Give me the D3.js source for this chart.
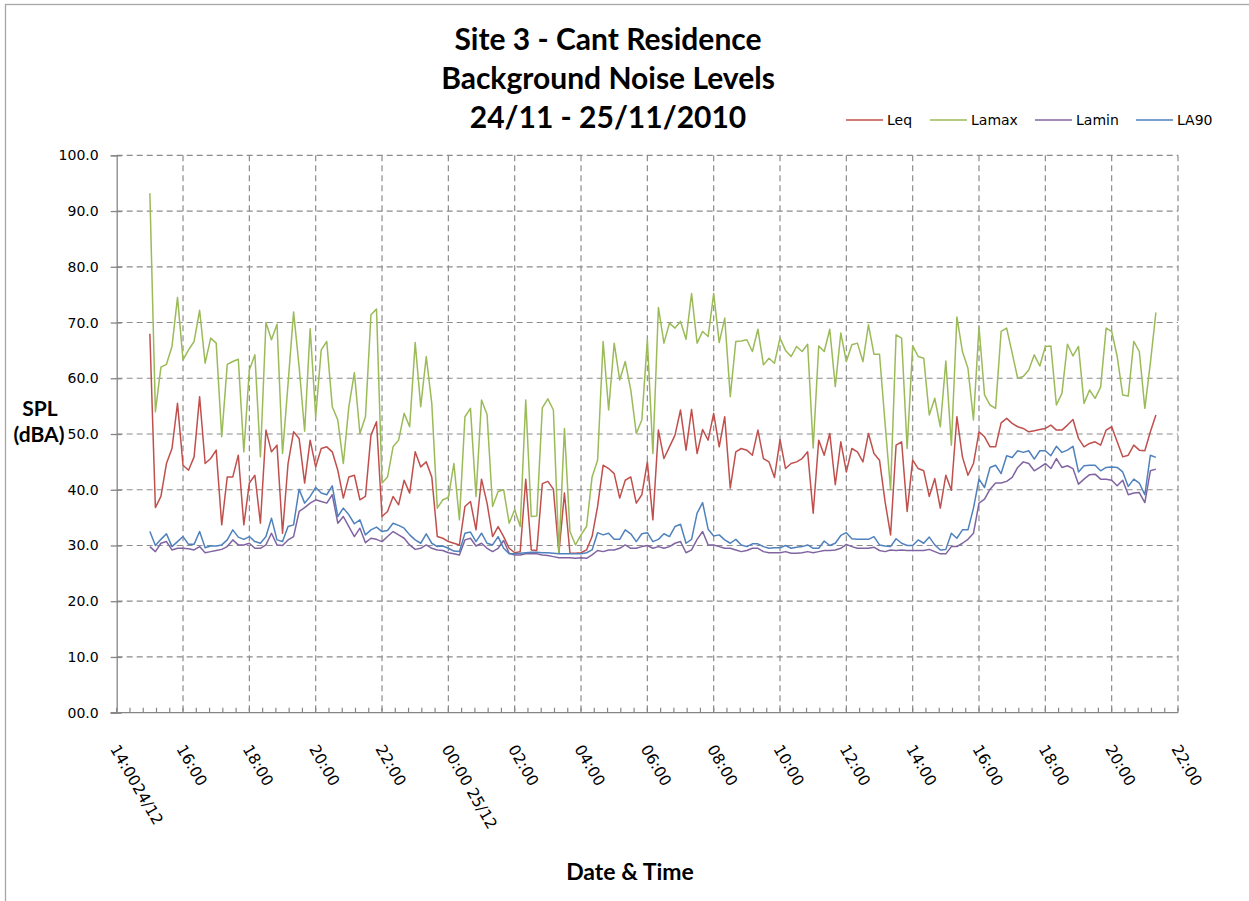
<!DOCTYPE html>
<html>
<head>
<meta charset="utf-8">
<script src="https://cdn.jsdelivr.net/npm/d3@7"></script>
<style>
body{margin:0;background:#fff}
svg{display:block}
</style>
</head>
<body>
<svg id="chart" width="1249" height="901"></svg>
<script>
// readings every 10 min from 15:00 24/11 to 21:20 25/11
var seriesNames = ['Leq', 'Lamax', 'Lamin', 'LA90']
var seriesColors = ['#C0504D', '#9BBB59', '#8064A2', '#4F81BD']

var leq = [
68.0,36.8,38.8,44.7,47.4,55.5,44.4,43.5,45.9,56.7,
44.7,45.6,47.1,33.7,42.3,42.3,46.2,33.7,41.2,42.6,
34.0,50.7,46.8,48.0,32.2,44.7,50.4,49.2,41.2,48.9,
44.1,47.4,47.7,46.8,43.5,38.5,42.3,42.6,38.2,38.8,
49.8,52.2,35.2,36.1,38.8,37.3,41.7,39.4,46.8,44.1,
45.0,42.3,31.6,31.3,30.7,30.4,30.1,37.0,37.9,32.8,
41.9,37.6,31.6,33.4,31.6,29.5,28.7,28.9,41.9,29.2,
29.1,41.1,41.5,40.1,28.6,39.4,28.6,28.6,28.7,29.2,
31.6,37.0,44.4,43.8,42.9,38.5,41.7,42.3,37.6,39.1,
45.0,34.6,50.7,45.6,47.7,49.8,54.3,47.1,54.4,46.5,
50.8,48.9,53.7,47.7,53.1,40.3,46.8,47.4,47.1,46.2,
50.7,45.6,45.0,42.2,49.0,43.8,44.7,45.0,45.6,46.8,
35.8,48.9,46.2,50.1,40.9,48.6,43.2,47.4,46.8,45.0,
50.1,46.5,45.3,37.9,31.9,48.0,48.6,36.1,45.3,43.8,
43.4,38.8,42.0,36.7,42.6,39.9,53.1,45.9,42.6,44.7,
50.4,49.5,47.7,47.7,52.0,52.8,51.9,51.3,51.0,50.4,
50.6,50.8,51.0,51.6,50.7,50.7,51.6,52.6,49.2,47.7,
48.3,48.6,48.0,50.7,51.3,48.6,45.9,46.2,48.0,47.1,
47.0,50.4,53.4]

var lamax = [
93.2,54.0,62.0,62.5,65.7,74.5,63.3,65.1,66.6,72.2,
62.7,67.2,66.3,49.5,62.5,63.0,63.4,46.8,61.5,64.2,
45.9,70.0,66.9,69.7,46.5,59.0,71.9,62.1,50.5,68.9,
53.1,65.1,66.6,54.9,52.5,44.7,54.9,61.0,50.1,53.1,
71.4,72.4,41.2,42.3,47.7,48.9,53.7,51.3,66.4,54.9,
63.9,55.5,36.7,38.2,38.6,44.7,34.6,53.1,54.6,38.8,
56.1,53.5,37.0,39.7,40.0,34.0,36.4,33.4,56.1,35.2,
35.3,54.7,56.3,54.3,28.6,51.0,32.5,30.1,31.9,33.4,
42.3,45.3,66.6,54.3,66.3,59.7,63.0,57.9,50.1,52.5,
66.9,46.5,72.7,66.3,69.9,69.0,70.2,67.0,75.2,66.3,
68.4,67.5,75.2,66.4,70.8,56.7,66.6,66.7,66.9,64.8,
68.8,62.4,63.6,62.7,67.2,65.0,63.9,65.7,64.8,66.1,
47.5,65.8,64.8,68.8,58.5,68.1,63.0,66.0,66.3,63.0,
69.6,64.3,64.3,52.0,40.0,67.8,67.2,47.4,65.8,63.9,
63.6,53.4,56.4,51.3,63.1,48.0,71.0,64.8,61.8,52.5,
69.2,57.0,55.2,54.6,68.4,69.0,64.5,60.0,60.3,61.5,
64.2,62.2,65.7,65.8,55.2,57.3,66.1,64.0,65.7,55.5,
57.9,56.4,58.4,69.0,68.4,63.9,57.0,56.8,66.6,64.8,
54.6,62.7,71.8]

var lamin = [
29.8,28.9,30.4,30.7,29.2,29.5,29.5,29.4,29.2,29.8,
28.7,28.9,29.1,29.3,29.8,31.0,30.1,30.1,30.4,29.5,
29.5,30.1,32.2,30.1,30.0,31.0,31.6,36.1,36.8,37.6,
38.2,37.9,37.6,39.1,34.0,35.2,33.4,31.6,33.1,30.5,
31.3,31.1,30.7,31.6,32.5,31.9,31.3,30.1,29.3,29.5,
30.1,29.5,29.2,29.1,28.7,28.5,28.3,31.0,31.3,29.9,
30.4,29.5,28.9,29.5,30.9,28.6,28.3,28.3,28.5,28.5,
28.5,28.3,28.2,28.0,27.8,27.8,27.8,27.7,27.8,27.7,
28.3,29.1,28.9,29.2,29.2,29.5,30.1,29.5,29.5,29.8,
30.0,29.5,29.8,29.5,29.8,30.4,30.7,28.7,29.2,31.1,
32.5,30.1,30.1,29.8,29.5,29.5,29.2,28.9,29.1,29.5,
29.5,28.9,28.7,28.7,28.7,28.9,28.6,28.6,28.7,28.9,
28.7,28.9,29.1,29.1,29.2,29.5,30.2,29.8,29.5,29.5,
29.5,29.7,29.1,28.9,29.2,29.1,29.2,29.1,29.1,29.1,
29.1,29.3,28.9,28.5,28.5,29.8,29.8,30.4,31.1,32.2,
37.6,38.3,40.1,41.2,41.2,41.5,42.2,44.0,45.0,44.7,
43.4,44.0,44.7,43.8,45.6,44.0,44.3,43.8,41.0,41.9,
42.7,42.8,41.9,41.9,41.7,40.7,41.7,39.1,39.4,39.5,
37.7,43.4,43.7]

var la90 = [
32.5,30.0,31.1,32.1,29.8,30.7,31.6,30.2,30.2,32.5,
29.6,29.9,29.9,30.1,31.0,32.8,31.5,31.1,31.6,30.7,
30.4,31.6,34.9,31.0,30.7,33.4,33.7,40.1,37.6,38.8,
40.4,39.4,39.1,40.7,35.2,36.7,35.5,33.9,34.6,31.9,
32.8,33.3,32.5,32.7,34.0,33.6,33.1,31.9,31.0,30.4,
32.1,30.4,29.8,29.9,29.5,29.0,28.9,32.2,32.4,30.7,
32.2,30.4,30.1,31.6,29.5,28.5,28.5,28.6,28.7,28.8,
28.8,28.7,28.7,28.6,28.5,28.5,28.5,28.5,28.5,28.7,
29.2,32.3,31.9,32.2,31.1,31.1,32.8,32.1,30.7,32.1,
32.3,30.7,31.1,32.1,31.6,33.4,33.8,30.4,31.1,35.8,
37.7,32.9,31.7,31.9,31.0,30.4,31.1,30.1,29.8,30.3,
30.3,29.8,29.5,29.6,29.6,30.0,29.5,29.7,29.8,30.1,
29.5,29.5,30.8,30.0,30.4,31.8,32.3,31.2,31.1,31.1,
31.1,31.6,30.1,29.9,29.8,31.2,30.4,30.0,30.0,31.0,
30.4,31.5,30.1,29.2,29.3,32.2,31.3,32.8,32.8,36.7,
41.9,40.4,44.0,44.4,42.9,46.1,45.8,47.0,46.7,47.0,
45.5,47.0,47.0,46.1,47.8,46.7,47.1,47.8,43.2,44.3,
44.4,44.4,43.4,44.0,44.1,44.0,43.2,40.6,41.9,41.2,
39.1,46.2,45.8]

var xTickLabels = ['14:0024/12','16:00','18:00','20:00','22:00','00:00 25/12','02:00','04:00',
	'06:00','08:00','10:00','12:00','14:00','16:00','18:00','20:00','22:00']
var yTicks = [0,10,20,30,40,50,60,70,80,90,100]
var yTickLabels = ['00.0','10.0','20.0','30.0','40.0','50.0','60.0','70.0','80.0','90.0','100.0']
var titleLines = ['Site 3 - Cant Residence','Background Noise Levels','24/11 - 25/11/2010']

var axisStart = new Date(2010,10,24,14,0)
var axisEnd = new Date(2010,10,25,22,0)
var dataStart = new Date(2010,10,24,15,0)
var stepMin = 10

var times = leq.map(function(d,i){ return new Date(dataStart.getTime() + i*stepMin*60000) })
var allSeries = [leq, lamax, lamin, la90]

var svg = d3.select('svg#chart')
var plotLeft = 116.7, plotRight = 1178, plotTop = 155.3, plotBottom = 712.7

var x = d3.scaleTime().domain([axisStart, axisEnd]).range([plotLeft, plotRight])
var y = d3.scaleLinear().domain([0,100]).range([plotBottom, plotTop])

// outer frame (only top/left edge visible)
svg.append('rect')
	.attr('x',5.5).attr('y',4.5).attr('width',1400).attr('height',1000)
	.attr('fill','none').attr('stroke','#a6a6a6').attr('stroke-width',1.3)

var majorTimes = xTickLabels.map(function(d,i){ return new Date(axisStart.getTime() + i*2*3600000) })
var minorTimes = d3.range(0, 32*60+1, 24).map(function(m){ return new Date(axisStart.getTime() + m*60000) })

// gridlines
svg.append('g').selectAll('line')
	.data(yTicks.slice(1))
	.enter().append('line')
	.attr('x1',plotLeft).attr('x2',plotRight)
	.attr('y1',function(d){ return y(d) }).attr('y2',function(d){ return y(d) })
	.attr('stroke','#8c8c8c').attr('stroke-width',1.2).attr('stroke-dasharray','6,4')

svg.append('g').selectAll('line')
	.data(majorTimes.slice(1))
	.enter().append('line')
	.attr('x1',function(d){ return x(d) }).attr('x2',function(d){ return x(d) })
	.attr('y1',plotTop).attr('y2',plotBottom)
	.attr('stroke','#8c8c8c').attr('stroke-width',1.2).attr('stroke-dasharray','6,4')

// y axis
var yAxis = svg.append('g')
	.attr('transform','translate(' + plotLeft + ',0)')
	.call(d3.axisLeft(y).tickValues(yTicks).tickSize(6).tickPadding(12)
		.tickFormat(function(d,i){ return yTickLabels[i] }))
yAxis.select('.domain').attr('stroke','#868686').attr('stroke-width',1.3)
yAxis.selectAll('.tick line').attr('stroke','#868686').attr('stroke-width',1.3).attr('x2',-6).attr('x1',5)
yAxis.selectAll('.tick text').attr('font-family','DejaVu Sans').attr('font-size','14px').attr('fill','#000')

// x axis
svg.append('line')
	.attr('x1',plotLeft - 6).attr('x2',plotRight).attr('y1',plotBottom).attr('y2',plotBottom)
	.attr('stroke','#868686').attr('stroke-width',1.3)
svg.append('g').selectAll('line')
	.data(minorTimes)
	.enter().append('line')
	.attr('x1',function(d){ return x(d) }).attr('x2',function(d){ return x(d) })
	.attr('y1',plotBottom).attr('y2',plotBottom - 5)
	.attr('stroke','#868686').attr('stroke-width',1.2)

svg.append('g').selectAll('text')
	.data(majorTimes)
	.enter().append('text')
	.attr('transform',function(d){ return 'translate(' + (x(d) - 7) + ',' + (plotBottom + 36) + ') rotate(60)' })
	.attr('font-family','DejaVu Sans').attr('font-size','15.5px').attr('fill','#000')
	.text(function(d,i){ return xTickLabels[i] })

// series lines
var line = d3.line()
	.x(function(d,i){ return x(times[i]) })
	.y(function(d){ return y(d) })

svg.append('g').selectAll('path')
	.data(allSeries)
	.enter().append('path')
	.attr('d',function(d){ return line(d) })
	.attr('fill','none')
	.attr('stroke',function(d,i){ return seriesColors[i] })
	.attr('stroke-width',1.5)
	.attr('stroke-linejoin','round')

// titles
svg.append('g').selectAll('text')
	.data(titleLines)
	.enter().append('text')
	.attr('x',608).attr('y',function(d,i){ return 50 + i*39 })
	.attr('text-anchor','middle')
	.attr('font-family','Lato').attr('font-weight','bold').attr('font-size','30px').attr('fill','#000')
	.text(function(d){ return d })

svg.append('text')
	.attr('x',40).attr('y',416).attr('text-anchor','middle')
	.attr('font-family','Lato').attr('font-weight','bold').attr('font-size','21px')
	.text('SPL')
svg.append('text')
	.attr('x',39).attr('y',442).attr('text-anchor','middle')
	.attr('font-family','Lato').attr('font-weight','bold').attr('font-size','21px')
	.text('(dBA)')

svg.append('text')
	.attr('x',630).attr('y',880).attr('text-anchor','middle')
	.attr('font-family','Lato').attr('font-weight','bold').attr('font-size','23px')
	.text('Date & Time')

// legend
var legendX = [846, 930, 1035, 1136]
var legend = svg.append('g').selectAll('g')
	.data(seriesNames)
	.enter().append('g')
	.attr('transform',function(d,i){ return 'translate(' + legendX[i] + ',120)' })
legend.append('line')
	.attr('x1',0).attr('x2',37).attr('y1',0).attr('y2',0)
	.attr('stroke',function(d,i){ return seriesColors[i] }).attr('stroke-width',1.5)
legend.append('text')
	.attr('x',41).attr('y',5)
	.attr('font-family','DejaVu Sans').attr('font-size','14px').attr('fill','#000')
	.text(function(d){ return d })
</script>
</body>
</html>
